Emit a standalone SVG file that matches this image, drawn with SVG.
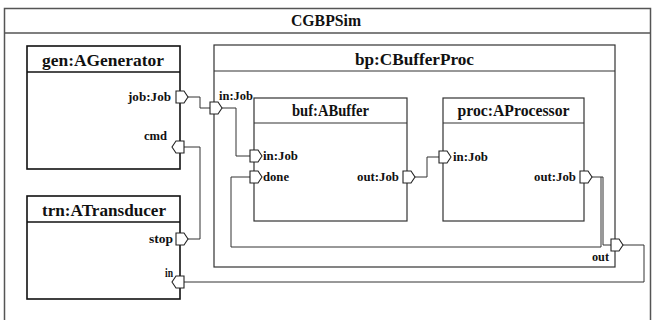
<svg xmlns="http://www.w3.org/2000/svg" width="652" height="320" viewBox="0 0 652 320">
<style>
.frame{fill:#fff;stroke:#555;stroke-width:1.5}
.box{fill:#fff;stroke:#111;stroke-width:1.6}
.ibox{fill:#fff;stroke:#333;stroke-width:1.2}
.sep{stroke:#333;stroke-width:1.2}
.port{fill:#fff;stroke:#222;stroke-width:1.1}
.conn{fill:none;stroke:#333;stroke-width:1}
.title{font-family:"Liberation Serif","DejaVu Serif","Times New Roman",serif;font-weight:bold;font-size:16px;fill:#111}
.lbl{font-family:"Liberation Serif","DejaVu Serif","Times New Roman",serif;font-weight:bold;font-size:12px;fill:#111}
</style>
<rect width="652" height="320" fill="#fff"/>
<g id="CGBPSim">
<rect class="frame" x="4.5" y="8.5" width="646" height="330"/>
<line class="sep" x1="4.5" y1="33" x2="650.5" y2="33" style="stroke:#555;stroke-width:1.5"/>
<text class="title" x="326" y="26" text-anchor="middle" style="font-size:16.5px" textLength="70" lengthAdjust="spacingAndGlyphs">CGBPSim</text>
</g>
<g id="bp">
<rect class="ibox" x="214" y="45" width="401" height="222"/>
<line class="sep" x1="214" y1="71" x2="615" y2="71"/>
<text class="title" x="414.5" y="65" text-anchor="middle" textLength="119" lengthAdjust="spacingAndGlyphs">bp:CBufferProc</text>
</g>
<g id="connectors">
<path class="conn" d="M188,97 H200 V108 H210"/>
<path class="conn" d="M188,239 H200 V147 H184"/>
<path class="conn" d="M222,108 H236 V156 H250"/>
<path class="conn" d="M415,177 H427 V157 H439"/>
<path class="conn" d="M592,177 H603 V245 H611"/>
<path class="conn" d="M601,177 V247 H231 V177 H250"/>
<path class="conn" d="M623,245 H644 V282 H184"/>
</g>
<g id="gen">
<rect class="box" x="27" y="46" width="153" height="123"/>
<line class="sep" x1="27" y1="72" x2="180" y2="72" style="stroke:#111;stroke-width:1.4"/>
<text class="title" x="103" y="66" text-anchor="middle" textLength="122" lengthAdjust="spacingAndGlyphs">gen:AGenerator</text>
<polygon class="port" points="176,91 184,91 188,97 184,103 176,103"/>
<text class="lbl" x="171" y="101" text-anchor="end" textLength="43" lengthAdjust="spacingAndGlyphs">job:Job</text>
<polygon class="port" points="184,141 176,141 172,147 176,153 184,153"/>
<text class="lbl" x="167" y="140" text-anchor="end" textLength="23" lengthAdjust="spacingAndGlyphs">cmd</text>
</g>
<g id="trn">
<rect class="box" x="27" y="196" width="153" height="103"/>
<line class="sep" x1="27" y1="222" x2="180" y2="222" style="stroke:#111;stroke-width:1.4"/>
<text class="title" x="104" y="216" text-anchor="middle" textLength="124" lengthAdjust="spacingAndGlyphs">trn:ATransducer</text>
<polygon class="port" points="176,233 184,233 188,239 184,245 176,245"/>
<text class="lbl" x="173" y="243" text-anchor="end" textLength="24" lengthAdjust="spacingAndGlyphs">stop</text>
<polygon class="port" points="184,276 176,276 172,282 176,288 184,288"/>
<text class="lbl" x="173" y="277" text-anchor="end" textLength="8" lengthAdjust="spacingAndGlyphs">in</text>
</g>
<g id="bp-ports">
<polygon class="port" points="210,102 218,102 222,108 218,114 210,114"/>
<text class="lbl" x="219" y="100" textLength="34" lengthAdjust="spacingAndGlyphs">in:Job</text>
<polygon class="port" points="611,239 619,239 623,245 619,251 611,251"/>
<text class="lbl" x="609" y="261" text-anchor="end" textLength="17" lengthAdjust="spacingAndGlyphs">out</text>
</g>
<g id="buf">
<rect class="ibox" x="254" y="98" width="153" height="123"/>
<line class="sep" x1="254" y1="123" x2="407" y2="123"/>
<text class="title" x="330.5" y="116" text-anchor="middle" textLength="77" lengthAdjust="spacingAndGlyphs">buf:ABuffer</text>
<polygon class="port" points="250,150 258,150 262,156 258,162 250,162"/>
<text class="lbl" x="263" y="160" textLength="35" lengthAdjust="spacingAndGlyphs">in:Job</text>
<polygon class="port" points="250,171 258,171 262,177 258,183 250,183"/>
<text class="lbl" x="263" y="181" textLength="26" lengthAdjust="spacingAndGlyphs">done</text>
<polygon class="port" points="403,171 411,171 415,177 411,183 403,183"/>
<text class="lbl" x="399" y="181" text-anchor="end" textLength="42" lengthAdjust="spacingAndGlyphs">out:Job</text>
</g>
<g id="proc">
<rect class="ibox" x="443" y="98" width="141" height="123"/>
<line class="sep" x1="443" y1="123" x2="584" y2="123"/>
<text class="title" x="513.5" y="116" text-anchor="middle" textLength="112" lengthAdjust="spacingAndGlyphs">proc:AProcessor</text>
<polygon class="port" points="439,151 447,151 451,157 447,163 439,163"/>
<text class="lbl" x="453" y="161" textLength="35" lengthAdjust="spacingAndGlyphs">in:Job</text>
<polygon class="port" points="580,171 588,171 592,177 588,183 580,183"/>
<text class="lbl" x="576" y="181" text-anchor="end" textLength="42" lengthAdjust="spacingAndGlyphs">out:Job</text>
</g>
</svg>
